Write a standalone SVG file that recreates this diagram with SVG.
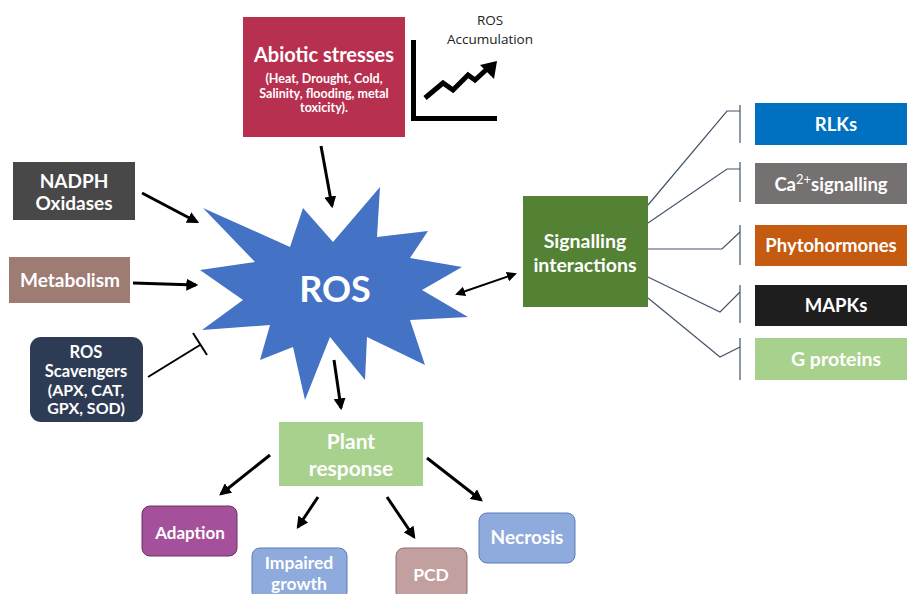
<svg xmlns="http://www.w3.org/2000/svg" width="907" height="594" viewBox="0 0 907 594">
<defs>
<style>
.t{font-family:Lato,"Open Sans","Liberation Sans",sans-serif;font-weight:bold;fill:#fff;text-anchor:middle;}
.k{font-family:"Open Sans","Liberation Sans",sans-serif;fill:#222;text-anchor:middle;font-size:13.5px;}
.a{stroke:#000;stroke-width:3;fill:none;marker-end:url(#ah);}
.b{stroke:#000;stroke-width:2;fill:none;}
.c{stroke:#44546A;stroke-width:1.2;fill:none;}
</style>
<marker id="ah" viewBox="0 0 10 10" refX="8" refY="5" markerWidth="4" markerHeight="4" orient="auto-start-reverse" markerUnits="strokeWidth">
<path d="M0,0 L10,5 L0,10 z" fill="#000"/>
</marker>
<marker id="ah2" viewBox="0 0 10 10" refX="8" refY="5" markerWidth="5" markerHeight="5" orient="auto-start-reverse" markerUnits="strokeWidth">
<path d="M0,0 L10,5 L0,10 z" fill="#000"/>
</marker>
</defs>
<rect width="907" height="594" fill="#fff"/>

<g id="abiotic">
<rect x="243" y="17" width="162" height="120" fill="#B8304F"/>
<text class="t" x="324" y="62" font-size="20">Abiotic stresses</text>
<text class="t" x="324" y="83" font-size="12.5">(Heat, Drought, Cold,</text>
<text class="t" x="324" y="97.5" font-size="12.5">Salinity, flooding, metal</text>
<text class="t" x="324" y="112" font-size="12.5">toxicity).</text>
</g>

<g id="ros-accumulation">
<text class="k" x="490" y="25">ROS</text>
<text class="k" x="490" y="44">Accumulation</text>
<path d="M413.5,40 V118.5 H497" stroke="#000" stroke-width="5" fill="none"/>
<path d="M425,98 L443,83 L453,90 L468,75 L475,80 L487,69" stroke="#000" stroke-width="5" fill="none" stroke-linejoin="miter"/>
<polygon points="497,61 494,79 480,65" fill="#000"/>
</g>

<g id="ros">
<polygon points="203,208 290,247 303,208 333,242 380,187 377,237 428,231 410,258 462,267 422,290 468,317 410,320 425,365 367,337 365,380 330,337 305,400 293,347 260,360 270,325 202,330 243,300 200,270 255,262" fill="#4472C4"/>
<text class="t" x="335" y="302" font-size="36">ROS</text>
</g>

<g id="nadph">
<rect x="13" y="162" width="122" height="58" fill="#484848"/>
<text class="t" x="74" y="188" font-size="19">NADPH</text>
<text class="t" x="74" y="210" font-size="19">Oxidases</text>
</g>

<g id="metabolism">
<rect x="9" y="257" width="121" height="46" fill="#9E7B73"/>
<text class="t" x="70" y="287" font-size="19">Metabolism</text>
</g>

<g id="scavengers">
<rect x="30" y="337" width="113" height="85" rx="11" fill="#2E3B55"/>
<text class="t" x="86" y="358" font-size="16.5">ROS</text>
<text class="t" x="86" y="377" font-size="16.5">Scavengers</text>
<text class="t" x="86" y="396" font-size="16">(APX, CAT,</text>
<text class="t" x="86" y="414" font-size="16">GPX, SOD)</text>
</g>

<g id="signalling">
<rect x="523" y="196" width="125" height="111" fill="#548235"/>
<text class="t" x="585" y="248" font-size="19.5">Signalling</text>
<text class="t" x="585" y="272" font-size="19.5">interactions</text>
</g>

<g id="rlks">
<rect x="755" y="103" width="152" height="42" fill="#0070C0"/>
<text class="t" x="836" y="131" font-size="18.5">RLKs</text>
</g>
<g id="calcium">
<rect x="755" y="163" width="152" height="41" fill="#767171"/>
<text class="t" x="831" y="191" font-size="18.5">Ca<tspan font-size="13" dy="-7" font-weight="normal">2+</tspan><tspan dy="7">signalling</tspan></text>
</g>
<g id="phytohormones">
<rect x="755" y="225" width="152" height="41" fill="#C55A11"/>
<text class="t" x="831" y="252" font-size="18.5">Phytohormones</text>
</g>
<g id="mapks">
<rect x="755" y="285" width="152" height="41" fill="#1E1E1E"/>
<text class="t" x="836" y="312" font-size="18.5">MAPKs</text>
</g>
<g id="gproteins">
<rect x="755" y="338" width="152" height="42" fill="#A9D18E"/>
<text class="t" x="836" y="366" font-size="19.5">G proteins</text>
</g>

<g id="plant-response">
<rect x="279" y="422" width="144" height="64" fill="#A9D18E"/>
<text class="t" x="351" y="449" font-size="21">Plant</text>
<text class="t" x="351" y="476" font-size="21">response</text>
</g>
<g id="adaption">
<rect x="142" y="506" width="95" height="50" rx="8" fill="#A5509B" stroke="#6A3063" stroke-width="1"/>
<text class="t" x="190" y="539" font-size="17">Adaption</text>
</g>
<g id="impaired">
<rect x="252" y="548" width="95" height="52" rx="8" fill="#8FAADC" stroke="#5B7DB8" stroke-width="1"/>
<text class="t" x="299" y="569" font-size="17.5">Impaired</text>
<text class="t" x="299" y="590" font-size="17.5">growth</text>
</g>
<g id="pcd">
<rect x="396" y="548" width="71" height="52" rx="8" fill="#C3A0A0" stroke="#8E6E6E" stroke-width="1"/>
<text class="t" x="431" y="581" font-size="17.5">PCD</text>
</g>
<g id="necrosis">
<rect x="479" y="513" width="96" height="50" rx="8" fill="#8FAADC" stroke="#5B7DB8" stroke-width="1"/>
<text class="t" x="527" y="544" font-size="19">Necrosis</text>
</g>

<g id="connectors">
<line class="a" x1="321" y1="146" x2="332" y2="206" stroke-width="4"/>
<line class="a" x1="142" y1="193" x2="197" y2="222"/>
<line class="a" x1="133" y1="283" x2="196" y2="285"/>
<line class="b" x1="148" y1="377" x2="200" y2="345" stroke-width="3"/>
<line class="b" x1="193" y1="333" x2="207" y2="355" stroke-width="3"/>
<line class="a" x1="334" y1="360" x2="341" y2="408" stroke-width="4"/>
<line x1="457" y1="294" x2="515" y2="274" stroke="#000" stroke-width="2" marker-start="url(#ah2)" marker-end="url(#ah2)"/>
<line class="a" x1="270" y1="455" x2="221" y2="494"/>
<line class="a" x1="318" y1="497" x2="298" y2="527"/>
<line class="a" x1="387" y1="497" x2="414" y2="537"/>
<line class="a" x1="427" y1="458" x2="481" y2="500"/>
<path class="c" d="M648,205 L727,111 H740"/>
<path class="c" d="M648,223 L727,169 H740"/>
<path class="c" d="M648,249 H722 L740,232"/>
<path class="c" d="M648,277 L720,312 L740,292"/>
<path class="c" d="M648,298 L720,357 L740,347"/>
<line class="c" x1="740" y1="105" x2="740" y2="143"/>
<line class="c" x1="740" y1="162" x2="740" y2="202"/>
<line class="c" x1="740" y1="225" x2="740" y2="265"/>
<line class="c" x1="740" y1="285" x2="740" y2="323"/>
<line class="c" x1="740" y1="338" x2="740" y2="380"/>
</g>
</svg>
